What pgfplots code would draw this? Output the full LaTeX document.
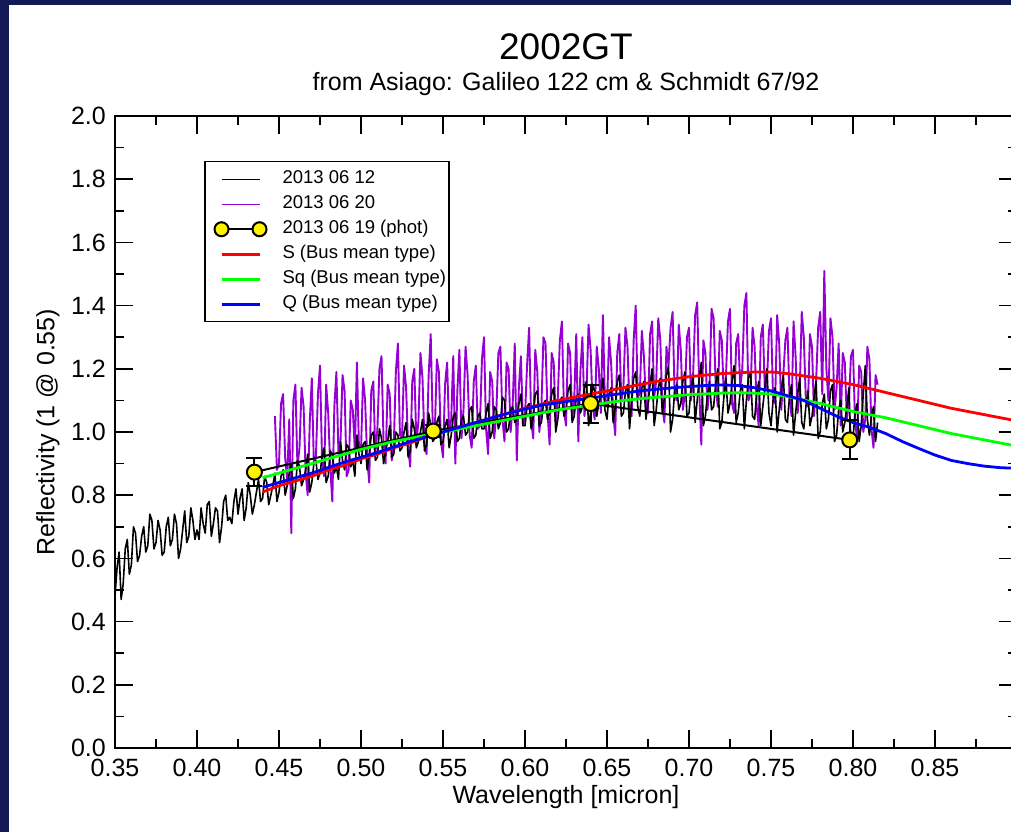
\documentclass[border=0pt]{standalone}
\usepackage{fontspec}
\setmainfont{Liberation Sans}
\usepackage{pgfplots}
\pgfplotsset{compat=1.18}
\definecolor{navybg}{RGB}{18,26,86}
\definecolor{spurple}{RGB}{150,0,210}
\begin{document}
\begin{tikzpicture}
\fill[navybg] (0pt,0pt) rectangle (1011pt,832pt);
\fill[white] (9pt,0pt) rectangle (1011pt,827pt);
\begin{axis}[
  at={(115pt,84pt)}, anchor=south west,
  scale only axis, width=902pt, height=632pt,
  xmin=0.35, xmax=0.90, ymin=0, ymax=2.0,
  xtick={0.35,0.40,...,0.851}, minor xtick={0.375,0.425,...,0.876},
  ytick={0,0.2,...,2.01}, minor ytick={0.1,0.3,...,1.91},
  major tick length=18pt, minor tick length=9pt,
  tick align=inside,
  axis line style={line width=1.6pt, black},
  every tick/.style={line width=1.6pt, black},
  every minor tick/.style={line width=1.6pt, black},
  /pgf/number format/assume math mode=true,
  ticklabel style={font=\fontsize{25}{30}\selectfont},
  xticklabel style={/pgf/number format/fixed, /pgf/number format/fixed zerofill, /pgf/number format/precision=2,
    anchor=north, inner sep=0pt, yshift=-11pt},
  yticklabel style={/pgf/number format/fixed, /pgf/number format/fixed zerofill, /pgf/number format/precision=1,
    anchor=east, inner sep=0pt, xshift=-9pt},
  xlabel={Wavelength [micron]},
  ylabel={Reflectivity (1 @ 0.55)},
  label style={font=\fontsize{25}{30}\selectfont},
  xlabel style={at={(axis description cs:0.5,-0.0775)}, anchor=center},
  ylabel style={at={(axis description cs:-0.0743,0.5)}, anchor=center},
  legend style={at={(axis description cs:0.0987,0.9288)}, anchor=north west,
    draw=black, line width=1.5pt, fill=white,
    font=\fontsize{18.5}{22}\selectfont,
    inner xsep=0pt, inner ysep=5pt, column sep=12pt, row sep=0pt,
    nodes={inner xsep=3pt, inner ysep=0pt, text height=17pt, text depth=8pt}},
  legend cell align=left,
  clip mode=individual,
]
% 2013 06 20 spectrum (purple)
\addplot[spurple, line width=1.9pt, line join=round, forget plot] coordinates {
(0.4475,1.05)(0.44875,0.88)(0.4500,0.90)(0.45125,1.09)(0.4525,1.12)(0.45375,0.92)(0.4550,0.85)(0.45625,1.04)(0.4575,0.68)(0.45875,1.10)(0.4600,1.15)(0.46125,0.89)(0.4625,0.95)(0.46375,1.14)(0.4650,1.08)(0.46625,0.87)(0.4675,0.80)(0.46875,1.03)(0.4700,1.17)(0.47125,0.90)
(0.4725,0.92)(0.47375,1.12)(0.4750,1.21)(0.47625,0.91)(0.4775,0.86)(0.47875,1.15)(0.4800,1.06)(0.48125,0.89)(0.4825,0.78)(0.48375,1.08)(0.4850,1.19)(0.48625,0.93)(0.4875,0.97)(0.48875,1.18)(0.4900,1.13)(0.49125,0.86)(0.4925,0.88)(0.49375,1.10)(0.4950,1.07)(0.49625,0.94)
(0.4975,1.22)(0.49875,0.95)(0.5000,0.94)(0.50125,1.17)(0.5025,1.10)(0.50375,0.92)(0.5050,0.84)(0.50625,1.13)(0.5075,1.16)(0.50875,0.93)(0.5100,1.01)(0.51125,1.20)(0.5125,1.24)(0.51375,0.97)(0.5150,0.90)(0.51625,1.15)(0.5175,1.12)(0.51875,0.91)(0.5200,0.96)(0.52125,1.19)
(0.5225,1.28)(0.52375,0.99)(0.5250,0.98)(0.52625,1.21)(0.5275,1.14)(0.52875,0.95)(0.5300,0.89)(0.53125,1.16)(0.5325,1.20)(0.53375,0.97)(0.5350,1.03)(0.53625,1.25)(0.5375,1.17)(0.53875,0.96)(0.5400,0.93)(0.54125,1.18)(0.5425,1.31)(0.54375,1.02)(0.5450,1.00)(0.54625,1.23)
(0.5475,1.19)(0.54875,0.97)(0.5500,0.92)(0.55125,1.15)(0.5525,1.22)(0.55375,1.00)(0.5550,1.04)(0.55625,1.24)(0.5575,0.90)(0.55875,1.13)(0.5600,1.26)(0.56125,0.98)(0.5625,1.07)(0.56375,1.27)(0.5650,1.18)(0.56625,0.99)(0.5675,0.95)(0.56875,1.16)(0.5700,1.21)(0.57125,1.01)
(0.5725,1.02)(0.57375,1.23)(0.5750,1.30)(0.57625,1.01)(0.5775,0.93)(0.57875,1.19)(0.5800,1.16)(0.58125,0.98)(0.5825,1.06)(0.58375,1.25)(0.5850,1.27)(0.58625,1.04)(0.5875,0.97)(0.58875,1.22)(0.5900,1.20)(0.59125,1.00)(0.5925,1.09)(0.59375,1.28)(0.5950,0.91)(0.59625,1.14)
(0.5975,1.24)(0.59875,1.02)(0.6000,1.05)(0.60125,1.21)(0.6025,1.33)(0.60375,1.04)(0.6050,0.98)(0.60625,1.26)(0.6075,1.19)(0.60875,1.00)(0.6100,1.08)(0.61125,1.30)(0.6125,1.28)(0.61375,1.06)(0.6150,0.96)(0.61625,1.25)(0.6175,1.22)(0.61875,1.03)(0.6200,1.11)(0.62125,1.29)
(0.6225,1.35)(0.62375,1.07)(0.6250,1.02)(0.62625,1.28)(0.6275,1.25)(0.62875,1.04)(0.6300,1.10)(0.63125,1.31)(0.6325,0.97)(0.63375,1.19)(0.6350,1.30)(0.63625,1.05)(0.6375,1.13)(0.63875,1.34)(0.6400,1.26)(0.64125,1.08)(0.6425,1.04)(0.64375,1.27)(0.6450,1.20)(0.64625,1.06)
(0.6475,1.37)(0.64875,1.09)(0.6500,1.08)(0.65125,1.30)(0.6525,1.22)(0.65375,1.06)(0.6550,0.99)(0.65625,1.25)(0.6575,1.31)(0.65875,1.10)(0.6600,1.14)(0.66125,1.33)(0.6625,1.27)(0.66375,1.07)(0.6650,1.05)(0.66625,1.29)(0.6675,1.40)(0.66875,1.11)(0.6700,1.12)(0.67125,1.32)
(0.6725,1.24)(0.67375,1.09)(0.6750,1.06)(0.67625,1.31)(0.6775,1.35)(0.67875,1.11)(0.6800,1.16)(0.68125,1.36)(0.6825,1.29)(0.68375,1.08)(0.6850,1.03)(0.68625,1.27)(0.6875,1.21)(0.68875,1.33)(0.6900,1.38)(0.69125,1.12)(0.6925,1.10)(0.69375,1.34)(0.6950,1.26)(0.69625,1.07)
(0.6975,1.12)(0.69875,1.30)(0.7000,1.33)(0.70125,1.10)(0.7025,1.18)(0.70375,1.37)(0.7050,1.41)(0.70625,1.13)(0.7075,0.96)(0.70875,1.29)(0.7100,1.25)(0.71125,1.07)(0.7125,1.14)(0.71375,1.39)(0.7150,1.36)(0.71625,1.15)(0.7175,1.08)(0.71875,1.32)(0.7200,1.29)(0.72125,1.11)
(0.7225,1.17)(0.72375,1.35)(0.7250,1.39)(0.72625,1.09)(0.7275,1.06)(0.72875,1.28)(0.7300,1.31)(0.73125,1.14)(0.7325,1.20)(0.73375,1.40)(0.7350,1.44)(0.73625,1.10)(0.7375,1.12)(0.73875,1.33)(0.7400,1.27)(0.74125,1.08)(0.7425,1.02)(0.74375,1.30)(0.7450,1.34)(0.74625,1.13)
(0.7475,1.15)(0.74875,1.32)(0.7500,1.36)(0.75125,1.11)(0.7525,1.09)(0.75375,1.37)(0.7550,1.28)(0.75625,1.07)(0.7575,1.18)(0.75875,1.29)(0.7600,1.33)(0.76125,1.12)(0.7625,1.05)(0.76375,1.35)(0.7650,1.24)(0.76625,1.06)(0.7675,1.13)(0.76875,1.38)(0.7700,1.30)(0.77125,1.10)
(0.7725,1.08)(0.77375,1.31)(0.7750,1.27)(0.77625,1.05)(0.7775,1.16)(0.77875,1.33)(0.7800,1.38)(0.78125,1.12)(0.7825,1.51)(0.78375,1.20)(0.7850,1.10)(0.78625,1.36)(0.7875,1.30)(0.78875,1.07)(0.7900,1.14)(0.79125,1.28)(0.7925,1.02)(0.79375,1.25)(0.7950,1.22)(0.79625,1.04)
(0.7975,1.09)(0.79875,1.24)(0.8000,1.26)(0.80125,1.03)(0.8025,0.98)(0.80375,1.21)(0.8050,1.19)(0.80625,1.00)(0.8075,1.04)(0.80875,1.27)(0.8100,1.23)(0.81125,1.01)(0.8125,0.95)(0.81375,1.18)(0.8150,1.15)
};
% 2013 06 12 spectrum (black)
\addplot[black, line width=1.6pt, line join=round, forget plot] coordinates {
(0.3500,0.48)(0.35125,0.57)(0.3525,0.62)(0.35375,0.47)(0.3550,0.52)(0.35625,0.63)(0.3575,0.66)(0.35875,0.55)(0.3600,0.58)(0.36125,0.70)(0.3625,0.68)(0.36375,0.59)(0.3650,0.61)(0.36625,0.67)(0.3675,0.70)(0.36875,0.62)(0.3700,0.64)(0.37125,0.74)(0.3725,0.72)(0.37375,0.63)
(0.3750,0.65)(0.37625,0.72)(0.3775,0.69)(0.37875,0.61)(0.3800,0.62)(0.38125,0.70)(0.3825,0.73)(0.38375,0.64)(0.3850,0.66)(0.38625,0.74)(0.3875,0.71)(0.38875,0.60)(0.3900,0.63)(0.39125,0.69)(0.3925,0.75)(0.39375,0.65)(0.3950,0.67)(0.39625,0.76)(0.3975,0.72)(0.39875,0.66)
(0.4000,0.69)(0.40125,0.66)(0.4025,0.76)(0.40375,0.71)(0.4050,0.68)(0.40625,0.77)(0.4075,0.78)(0.40875,0.67)(0.4100,0.71)(0.41125,0.76)(0.4125,0.75)(0.41375,0.65)(0.4150,0.70)(0.41625,0.78)(0.4175,0.80)(0.41875,0.72)(0.4200,0.73)(0.42125,0.71)(0.4225,0.78)(0.42375,0.82)
(0.4250,0.74)(0.42625,0.79)(0.4275,0.82)(0.42875,0.72)(0.4300,0.76)(0.43125,0.84)(0.4325,0.80)(0.43375,0.74)(0.4350,0.77)(0.43625,0.81)(0.4375,0.85)(0.43875,0.78)(0.4400,0.79)(0.44125,0.86)(0.4425,0.84)(0.44375,0.77)(0.4450,0.80)(0.44625,0.83)(0.4475,0.87)(0.44875,0.78)
(0.4500,0.81)(0.45125,0.86)(0.4525,0.88)(0.45375,0.80)(0.4550,0.83)(0.45625,0.87)(0.4575,0.90)(0.45875,0.79)(0.4600,0.82)(0.46125,0.91)(0.4625,0.89)(0.46375,0.83)(0.4650,0.85)(0.46625,0.88)(0.4675,0.93)(0.46875,0.81)(0.4700,0.84)(0.47125,0.90)(0.4725,0.91)(0.47375,0.85)
(0.4750,0.87)(0.47625,0.92)(0.4775,0.95)(0.47875,0.84)(0.4800,0.86)(0.48125,0.94)(0.4825,0.93)(0.48375,0.87)(0.4850,0.89)(0.48625,0.85)(0.4875,0.97)(0.48875,0.91)(0.4900,0.88)(0.49125,0.96)(0.4925,0.95)(0.49375,0.89)(0.4950,0.91)(0.49625,0.86)(0.4975,0.99)(0.49875,0.93)
(0.5000,0.90)(0.50125,0.96)(0.5025,0.97)(0.50375,0.88)(0.5050,0.93)(0.50625,0.99)(0.5075,1.00)(0.50875,0.91)(0.5100,0.92)(0.51125,1.01)(0.5125,0.98)(0.51375,0.90)(0.5150,0.94)(0.51625,0.97)(0.5175,1.02)(0.51875,0.92)(0.5200,0.93)(0.52125,1.00)(0.5225,0.99)(0.52375,0.94)
(0.5250,0.95)(0.52625,1.00)(0.5275,1.03)(0.52875,0.92)(0.5300,0.94)(0.53125,1.04)(0.5325,1.01)(0.53375,0.95)(0.5350,0.97)(0.53625,1.00)(0.5375,1.04)(0.53875,0.94)(0.5400,0.96)(0.54125,1.06)(0.5425,1.02)(0.54375,0.97)(0.5450,0.98)(0.54625,1.03)(0.5475,1.05)(0.54875,0.96)
(0.5500,0.97)(0.55125,1.02)(0.5525,1.04)(0.55375,0.95)(0.5550,0.99)(0.55625,1.05)(0.5575,1.06)(0.55875,0.97)(0.5600,0.98)(0.56125,1.04)(0.5625,1.05)(0.56375,0.99)(0.5650,1.00)(0.56625,1.07)(0.5675,1.08)(0.56875,0.98)(0.5700,0.99)(0.57125,1.05)(0.5725,1.06)(0.57375,1.01)
(0.5750,1.01)(0.57625,1.06)(0.5775,1.09)(0.57875,0.98)(0.5800,1.00)(0.58125,1.08)(0.5825,1.07)(0.58375,1.01)(0.5850,1.03)(0.58625,1.11)(0.5875,1.10)(0.58875,1.00)(0.5900,1.01)(0.59125,1.07)(0.5925,1.08)(0.59375,1.03)(0.5950,1.04)(0.59625,1.09)(0.5975,1.12)(0.59875,1.02)
(0.6000,1.02)(0.60125,1.08)(0.6025,1.09)(0.60375,1.01)(0.6050,1.05)(0.60625,1.12)(0.6075,1.13)(0.60875,1.02)(0.6100,1.03)(0.61125,1.09)(0.6125,1.10)(0.61375,1.04)(0.6150,1.06)(0.61625,1.12)(0.6175,1.14)(0.61875,1.00)(0.6200,1.04)(0.62125,1.10)(0.6225,1.11)(0.62375,1.05)
(0.6250,1.07)(0.62625,1.13)(0.6275,1.15)(0.62875,1.03)(0.6300,1.05)(0.63125,1.11)(0.6325,1.12)(0.63375,1.06)(0.6350,1.08)(0.63625,1.14)(0.6375,1.16)(0.63875,1.02)(0.6400,1.06)(0.64125,1.15)(0.6425,1.13)(0.64375,1.05)(0.6450,1.09)(0.64625,1.12)(0.6475,1.17)(0.64875,1.07)
(0.6500,1.04)(0.65125,1.12)(0.6525,1.14)(0.65375,1.03)(0.6550,1.08)(0.65625,1.16)(0.6575,1.18)(0.65875,1.05)(0.6600,1.06)(0.66125,1.13)(0.6625,1.15)(0.66375,1.01)(0.6650,1.10)(0.66625,1.17)(0.6675,1.19)(0.66875,1.08)(0.6700,1.05)(0.67125,1.14)(0.6725,1.16)(0.67375,1.04)
(0.6750,1.09)(0.67625,1.15)(0.6775,1.20)(0.67875,1.02)(0.6800,1.07)(0.68125,1.14)(0.6825,1.17)(0.68375,1.06)(0.6850,1.11)(0.68625,1.18)(0.6875,1.21)(0.68875,1.00)(0.6900,1.04)(0.69125,1.13)(0.6925,1.15)(0.69375,1.07)(0.6950,1.09)(0.69625,1.16)(0.6975,1.19)(0.69875,1.05)
(0.7000,1.06)(0.70125,1.14)(0.7025,1.18)(0.70375,1.03)(0.7050,1.10)(0.70625,1.17)(0.7075,1.22)(0.70875,1.02)(0.7100,1.05)(0.71125,1.12)(0.7125,1.16)(0.71375,1.07)(0.7150,1.08)(0.71625,1.15)(0.7175,1.20)(0.71875,1.01)(0.7200,1.03)(0.72125,1.11)(0.7225,1.17)(0.72375,1.06)
(0.7250,1.09)(0.72625,1.16)(0.7275,1.21)(0.72875,1.03)(0.7300,1.06)(0.73125,1.13)(0.7325,1.15)(0.73375,1.01)(0.7350,1.10)(0.73625,1.17)(0.7375,1.19)(0.73875,1.05)(0.7400,1.04)(0.74125,1.12)(0.7425,1.16)(0.74375,1.02)(0.7450,1.08)(0.74625,1.14)(0.7475,1.20)(0.74875,1.06)
(0.7500,1.02)(0.75125,1.10)(0.7525,1.14)(0.75375,1.00)(0.7550,1.07)(0.75625,1.13)(0.7575,1.18)(0.75875,1.04)(0.7600,1.03)(0.76125,1.11)(0.7625,1.15)(0.76375,0.99)(0.7650,1.06)(0.76625,1.12)(0.7675,1.17)(0.76875,1.03)(0.7700,1.01)(0.77125,1.08)(0.7725,1.13)(0.77375,1.02)
(0.7750,1.05)(0.77625,1.11)(0.7775,1.16)(0.77875,0.98)(0.7800,1.00)(0.78125,1.09)(0.7825,1.12)(0.78375,1.01)(0.7850,1.04)(0.78625,1.13)(0.7875,1.15)(0.78875,0.97)(0.7900,0.99)(0.79125,1.07)(0.7925,1.10)(0.79375,1.00)(0.7950,1.03)(0.79625,1.08)(0.7975,1.14)(0.79875,0.96)
(0.8000,0.98)(0.80125,1.06)(0.8025,1.09)(0.80375,0.97)(0.8050,1.02)(0.80625,1.12)(0.8075,1.21)(0.80875,1.04)(0.8100,0.99)(0.81125,1.05)(0.8125,1.08)(0.81375,0.97)(0.8150,1.03)
};
% 2013 06 19 photometry line
\addplot[black, line width=2pt, forget plot] coordinates {
(0.435,0.873)(0.544,1.003)(0.640,1.090)(0.798,0.975)};
% S
\addplot[red, line width=2.8pt, forget plot] coordinates {
(0.44,0.81)(0.45,0.83)(0.46,0.845)(0.47,0.86)(0.48,0.88)(0.49,0.895)(0.50,0.915)(0.51,0.93)(0.52,0.95)(0.53,0.965)(0.54,0.985)(0.55,1.00)
(0.56,1.015)(0.57,1.03)(0.58,1.045)(0.59,1.06)(0.60,1.075)(0.62,1.10)(0.64,1.12)(0.66,1.14)(0.68,1.16)(0.70,1.175)(0.72,1.185)(0.74,1.19)
(0.75,1.19)(0.76,1.185)(0.78,1.17)(0.80,1.15)(0.82,1.125)(0.84,1.10)(0.86,1.075)(0.88,1.055)(0.90,1.035)};
% Sq
\addplot[green, line width=2.8pt, forget plot] coordinates {
(0.44,0.855)(0.46,0.885)(0.48,0.915)(0.50,0.945)(0.52,0.97)(0.54,0.99)(0.55,1.00)(0.56,1.01)(0.58,1.03)(0.60,1.05)(0.62,1.07)(0.64,1.085)
(0.66,1.10)(0.68,1.11)(0.70,1.118)(0.72,1.123)(0.73,1.124)(0.74,1.123)(0.75,1.12)(0.76,1.112)(0.78,1.09)(0.80,1.065)(0.82,1.045)(0.84,1.02)
(0.86,0.995)(0.88,0.975)(0.90,0.955)};
% Q
\addplot[blue, line width=2.8pt, forget plot] coordinates {
(0.44,0.825)(0.45,0.84)(0.47,0.87)(0.49,0.905)(0.51,0.935)(0.53,0.97)(0.55,1.00)(0.57,1.03)(0.59,1.06)(0.61,1.085)(0.63,1.10)(0.65,1.115)
(0.67,1.13)(0.69,1.14)(0.71,1.147)(0.72,1.149)(0.73,1.147)(0.74,1.14)(0.75,1.13)(0.76,1.115)(0.77,1.10)(0.78,1.075)(0.79,1.05)(0.80,1.03)
(0.81,1.015)(0.82,0.995)(0.83,0.97)(0.84,0.948)(0.85,0.927)(0.86,0.91)(0.87,0.90)(0.88,0.892)(0.89,0.887)(0.90,0.885)};
% photometry markers with error bars
\addplot[forget plot, only marks, mark=*, mark size=7.5pt, mark options={fill=yellow, draw=black, line width=2pt},
  error bars/.cd, y dir=both, y explicit,
  error bar style={line width=2pt, black},
  error mark options={rotate=90, mark size=8pt, line width=2pt, black}]
  table[x=x, y=y, y error=e] {
x y e
0.435 0.873 0.045
0.544 1.003 0.020
0.640 1.090 0.060
0.798 0.975 0.062
};
% legend
\addlegendimage{legend image code/.code={\path (0pt,0pt); \draw[black, line width=1.1pt] (16pt,0pt) -- (54pt,0pt);}}
\addlegendentry{2013 06 12}
\addlegendimage{legend image code/.code={\path (0pt,0pt); \draw[spurple, line width=1.3pt] (16pt,0pt) -- (54pt,0pt);}}
\addlegendentry{2013 06 20}
\addlegendimage{legend image code/.code={\path (0pt,0pt); \draw[black, line width=2pt] (16pt,0pt) -- (54pt,0pt);
  \draw[fill=yellow, draw=black, line width=2pt] (16pt,0pt) circle (7pt) (54pt,0pt) circle (7pt);}}
\addlegendentry{2013 06 19 (phot)}
\addlegendimage{legend image code/.code={\path (0pt,0pt); \draw[red, line width=2.8pt] (16pt,0pt) -- (54pt,0pt);}}
\addlegendentry{S (Bus mean type)}
\addlegendimage{legend image code/.code={\path (0pt,0pt); \draw[green, line width=2.8pt] (16pt,0pt) -- (54pt,0pt);}}
\addlegendentry{Sq (Bus mean type)}
\addlegendimage{legend image code/.code={\path (0pt,0pt); \draw[blue, line width=2.8pt] (16pt,0pt) -- (54pt,0pt);}}
\addlegendentry{Q (Bus mean type)}
% titles
\node[font=\fontsize{37}{40}\selectfont] at (axis description cs:0.5,1.109) {2002GT};
\node[font=\fontsize{25}{30}\selectfont] at (axis description cs:0.5,1.05) {from Asiago: Galileo 122 cm \& Schmidt 67/92};
\end{axis}
\pgfresetboundingbox
\useasboundingbox (0pt,0pt) rectangle (1011pt,832pt);
\end{tikzpicture}
\end{document}
